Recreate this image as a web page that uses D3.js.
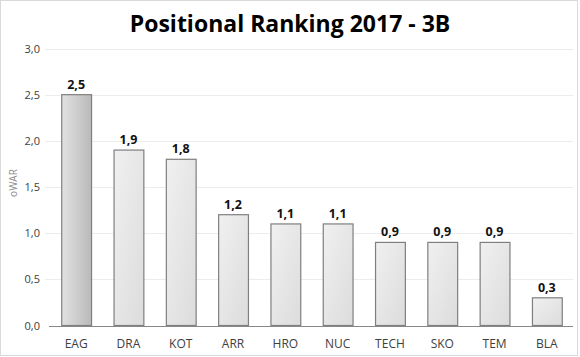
<!DOCTYPE html>
<html><head><meta charset="utf-8">
<script src="https://cdn.jsdelivr.net/npm/d3@7"></script>
<style>body{margin:0;background:#fff}svg{display:block;font-family:"Open Sans","Liberation Sans",sans-serif}</style>
</head><body><div id="c"></div>
<script>
const categories = ["EAG","DRA","KOT","ARR","HRO","NUC","TECH","SKO","TEM","BLA"];
const values = [2.5,1.9,1.8,1.2,1.1,1.1,0.9,0.9,0.9,0.3];
const yTicks = [0,0.5,1,1.5,2,2.5,3];
const title = "Positional Ranking 2017 - 3B";
const yLabel = "oWAR";

const W=580,H=357;
const svg=d3.select("#c").append("svg").attr("width",W).attr("height",H);
const defs=svg.append("defs");
const g1=defs.append("linearGradient").attr("id","gDark").attr("x1","0").attr("x2","1").attr("y1","0").attr("y2","0");
g1.append("stop").attr("offset","0").attr("stop-color","#e2e2e2");
g1.append("stop").attr("offset","1").attr("stop-color","#b9b9b9");
const g2=defs.append("linearGradient").attr("id","gLight").attr("x1","0").attr("x2","1").attr("y1","0").attr("y2","1");
g2.append("stop").attr("offset","0").attr("stop-color","#f0f0f0");
g2.append("stop").attr("offset","1").attr("stop-color","#dcdcdc");

svg.append("rect").attr("x",0.5).attr("y",0.5).attr("width",W-3).attr("height",H-2).attr("fill","#fff").attr("stroke","#d9d9d9");

const x=d3.scaleBand().domain(categories).range([50,573]).paddingInner(0.43).paddingOuter(0.215);
const y=d3.scaleLinear().domain([0,3]).range([325.5,48.5]);

svg.append("g").selectAll("line").data(yTicks.filter(d=>d>0)).join("line")
 .attr("x1",45).attr("x2",573).attr("y1",d=>Math.round(y(d))+0.5).attr("y2",d=>Math.round(y(d))+0.5)
 .attr("stroke","#ececec").attr("stroke-width",1);

const ya=svg.append("g").attr("transform","translate(45,0)")
 .call(d3.axisLeft(y).tickValues(yTicks).tickFormat(d=>d3.format(".1f")(d).replace(".",",")).tickSize(0).tickPadding(5));
ya.select(".domain").remove();
ya.selectAll("text").attr("font-size",11).attr("fill","#404040").attr("font-family","'Open Sans',sans-serif");

svg.append("g").selectAll("rect").data(values).join("rect")
 .attr("x",(d,i)=>x(categories[i])+0.5).attr("y",d=>y(d)).attr("width",x.bandwidth()).attr("height",d=>y(0)-y(d))
 .attr("fill",(d,i)=>i===0?"url(#gDark)":"url(#gLight)").attr("stroke","#7f7f7f").attr("stroke-width",1.2);

const xa=svg.append("g").attr("transform",`translate(0,${Math.round(y(0))+0.5})`).call(d3.axisBottom(x).tickSize(0).tickPadding(13));
xa.select(".domain").attr("stroke","#888").attr("d","M49,0H573");
xa.selectAll("text").attr("font-size",12).attr("fill","#404040").attr("font-family","'Open Sans',sans-serif");

svg.append("g").selectAll("text").data(values).join("text")
 .attr("x",(d,i)=>x(categories[i])+x.bandwidth()/2).attr("y",d=>y(d)-6)
 .attr("text-anchor","middle").attr("font-size",12.5).attr("font-weight","bold").attr("fill","#111")
 .text(d=>d3.format(".1f")(d).replace(".",","));

svg.append("text").attr("x",290).attr("y",32).attr("text-anchor","middle").attr("font-size",23).attr("font-weight","bold").attr("fill","#000").text(title);

svg.append("text").attr("transform","translate(17,183) rotate(-90)").attr("text-anchor","middle").attr("font-size",10).attr("fill","#8a8a8a").text(yLabel);
</script></body></html>
